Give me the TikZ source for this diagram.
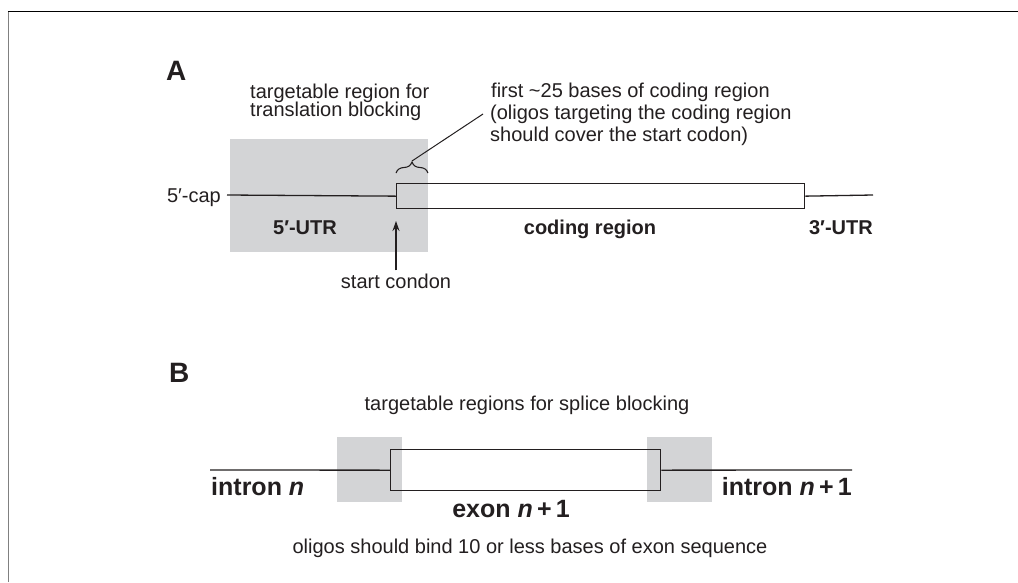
\documentclass[tikz,border=0pt]{standalone}
\usepackage{fontspec}
\setmainfont{Liberation Sans}
\usetikzlibrary{arrows.meta,decorations.pathreplacing}
\definecolor{shade}{RGB}{211,212,214}
\definecolor{ink}{RGB}{35,31,32}
\begin{document}
\begin{tikzpicture}[x=1pt,y=-1pt,
  reg/.style={font=\fontsize{20}{24}\selectfont, text=ink, inner sep=0pt},
  bld/.style={font=\fontsize{20}{24}\selectfont\bfseries, text=ink, inner sep=0pt},
  big/.style={font=\fontsize{25}{30}\selectfont\bfseries, text=ink, inner sep=0pt},
  panel/.style={font=\fontsize{28}{32}\selectfont\bfseries, text=ink, inner sep=0pt},
  strand/.style={draw=ink, line width=1.3pt},
  shadebox/.style={fill=shade, draw=none, inner sep=0pt, anchor=north west},
  seqbox/.style={draw=ink, line width=1.3pt, inner sep=0pt, anchor=north west},
]
\useasboundingbox (0,0) rectangle (1018,582);
\fill[white] (0,0) rectangle (1018,582);
% frame
\draw[gray, line width=1.2pt] (8.5,582) -- (8.5,11.5);
\draw[black, line width=1.4pt] (7.9,11.5) -- (1018,11.5);

% ---------------- Panel A ----------------
\node[panel, anchor=base west] (labA) at (166,80) {A};
\node[shadebox, minimum width=198pt, minimum height=113pt] (tgtA) at (230,139) {};
\node[seqbox, minimum width=408pt, minimum height=25pt] (cds) at (396,183) {};
\coordinate (capR) at (227,195);
\coordinate (end3) at (873,195);
\draw[strand] (capR) -- (cds.west);
\draw[strand] (cds.east) -- (end3);

\node[reg, anchor=base east] (cap) at (221,202) {5′-cap};
\node[bld, anchor=base] (utr5) at (305,234) {5′-UTR};
\node[bld, anchor=base] (coding) at (590,234) {coding region};
\node[bld, anchor=base east] (utr3) at (873,234) {3′-UTR};

\node[reg, anchor=base] (start) at (396,288) {start condon};
\coordinate (tipA) at (396,221);
\draw[draw=ink, line width=1.3pt, -{Stealth[length=10pt,width=7pt]}] ([yshift=3pt]start.north) -- (tipA);

\coordinate (brL) at (396,173);
\coordinate (brR) at (428,173);
\draw[ink, line width=1.1pt, decorate, decoration={brace, amplitude=11pt}] (brL) -- (brR);
\coordinate (cusp) at (412,161);
\coordinate (lead) at (483,114);
\draw[ink, line width=1pt] (cusp) -- (lead);

\node[reg, anchor=base west] (tA1) at (250,98) {targetable region for};
\node[reg, anchor=base west] (tA2) at (250,116) {translation blocking};
\node[reg, anchor=base west] (fA1) at (491,97) {first \textasciitilde25 bases of coding region};
\node[reg, anchor=base west] (fA2) at (490,119) {(oligos targeting the coding region};
\node[reg, anchor=base west] (fA3) at (490,141) {should cover the start codon)};

% ---------------- Panel B ----------------
\node[panel, anchor=base west] (labB) at (169,382) {B};
\node[reg, anchor=base] (tgtB) at (527,410) {targetable regions for splice blocking};
\node[shadebox, minimum width=65pt, minimum height=65pt] (gL) at (337,437) {};
\node[shadebox, minimum width=65pt, minimum height=65pt] (gR) at (647,437) {};
\node[seqbox, minimum width=270pt, minimum height=41pt] (exon) at (390,449) {};
\coordinate (inL) at (210,470);
\coordinate (inR) at (852,470);
\draw[strand] (inL) -- (exon.west);
\draw[strand] (exon.east) -- (inR);

\node[big, anchor=base west] (intn) at (211,495) {intron \textit{n}};
\node[big, anchor=base east] (intn1) at (852,495) {intron \textit{n}\,+\,1};
\node[big, anchor=base] (exn) at (511,517) {exon \textit{n}\,+\,1};
\node[reg, anchor=base] (olig) at (530,553) {oligos should bind 10 or less bases of exon sequence};
\end{tikzpicture}
\end{document}
